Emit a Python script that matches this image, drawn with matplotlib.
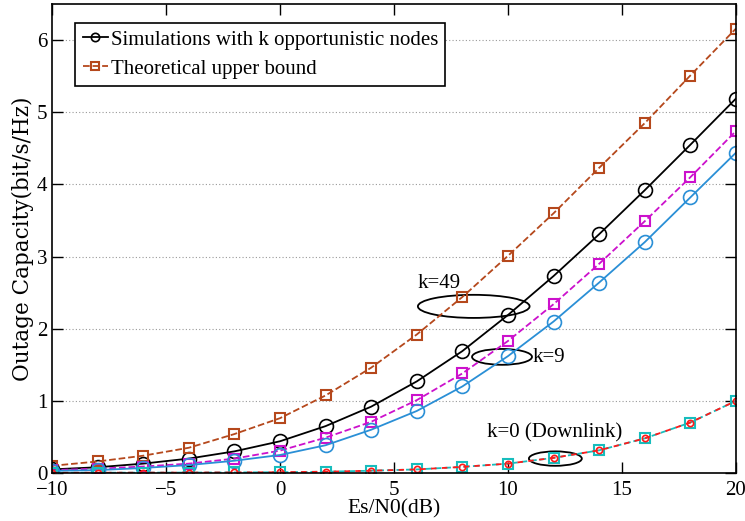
import numpy as np
import matplotlib
matplotlib.use("Agg")
import matplotlib.pyplot as plt
from matplotlib.patches import Ellipse

plt.rcParams['font.family'] = ['Liberation Serif', 'DejaVu Serif']

snr = [-10, -8, -6, -4, -2, 0, 2, 4, 6, 8, 10, 12, 14, 16, 18, 20]

# k=49
sim49 = [0.05, 0.08, 0.13, 0.20, 0.30, 0.44, 0.65, 0.92, 1.27, 1.69, 2.19, 2.73, 3.31, 3.92, 4.55, 5.19]
ub49 = [0.10, 0.16, 0.24, 0.35, 0.54, 0.76, 1.075, 1.46, 1.92, 2.44, 3.01, 3.60, 4.23, 4.85, 5.51, 6.16]
# k=9
sim9 = [0.03, 0.04, 0.07, 0.11, 0.17, 0.25, 0.385, 0.60, 0.86, 1.20, 1.62, 2.10, 2.64, 3.20, 3.82, 4.44]
ub9 = [0.04, 0.06, 0.09, 0.13, 0.20, 0.31, 0.49, 0.71, 1.01, 1.38, 1.83, 2.34, 2.90, 3.49, 4.10, 4.74]
# k=0 (downlink)
sim0 = [0.003, 0.004, 0.005, 0.006, 0.008, 0.011, 0.018, 0.032, 0.05, 0.085, 0.13, 0.21, 0.315, 0.48, 0.70, 1.0]
ub0 = sim0

brown = '#B5481C'
magenta = '#CC11CC'
blue = '#2A8FD6'
cyan = '#17BDBD'
red = '#FF1A1A'

fig = plt.figure(figsize=(7.45, 5.21), dpi=100)
ax = fig.add_axes([0.0698, 0.0921, 0.918, 0.900])

ax.plot(snr, sim49, '-', color='black', marker='o', mfc='none', ms=10, mew=1.2, lw=1.3,
        label='Simulations with k opportunistic nodes')
ax.plot(snr, ub49, '--', color=brown, marker='s', mfc='none', ms=7, mew=1.5, lw=1.3,
        label='Theoretical upper bound')
ax.plot(snr, ub9, '--', color=magenta, marker='s', mfc='none', ms=7, mew=1.5, lw=1.3)
ax.plot(snr, sim9, '-', color=blue, marker='o', mfc='none', ms=10, mew=1.2, lw=1.3)
ax.plot(snr, ub0, '--', color=cyan, marker='s', mfc='none', ms=7, mew=1.5, lw=1.3)
ax.plot(snr, sim0, '--', color=red, marker='o', mfc='none', ms=4.5, mew=1.2, lw=1.3,
        dashes=(3, 3), dash_capstyle='butt')

ax.add_patch(Ellipse((8.5, 2.31), 4.9, 0.32, fill=False, ec='black', lw=1.3))
ax.add_patch(Ellipse((9.74, 1.61), 2.63, 0.22, fill=False, ec='black', lw=1.3))
ax.add_patch(Ellipse((12.08, 0.2), 2.32, 0.2, fill=False, ec='black', lw=1.3))
ax.text(6.05, 2.63, 'k=49', fontsize=15, va='center', ha='left')
ax.text(11.1, 1.6, 'k=9', fontsize=15, va='center', ha='left')
ax.text(9.07, 0.55, 'k=0 (Downlink)', fontsize=15, va='center', ha='left')

ax.set_xlim(-10, 20)
ax.set_ylim(0, 6.5)
ax.set_xticks([-10, -5, 0, 5, 10, 15, 20])
ax.set_xticklabels(['\u221210', '\u22125', '0', '5', '10', '15', '20'])
ax.set_yticks([0, 1, 2, 3, 4, 5, 6])
ax.yaxis.grid(True, linestyle=(0, (1, 2)), color='#999999', lw=0.8)
ax.tick_params(direction='in', length=8, top=True, right=True, labelsize=15, width=1)
ax.tick_params(axis='x', pad=6)
for s in ax.spines.values():
    s.set_linewidth(1.2)

ax.set_xlabel('Es/N0(dB)', fontsize=15.5, labelpad=-1)
ax.set_ylabel('Outage Capacity(bit/s/Hz)', fontsize=15.5, family=['DejaVu Serif'], labelpad=2)

leg = ax.legend(loc='upper left', bbox_to_anchor=(0.034, 0.96), borderaxespad=0,
                fontsize=15, fancybox=False, framealpha=1, edgecolor='black',
                handlelength=1.2, handletextpad=0.15, borderpad=0.35, labelspacing=0.45)
leg.get_frame().set_linewidth(1.2)
for h in leg.legend_handles:
    h.set_markersize(6)

fig.savefig('out.png', dpi=100)
